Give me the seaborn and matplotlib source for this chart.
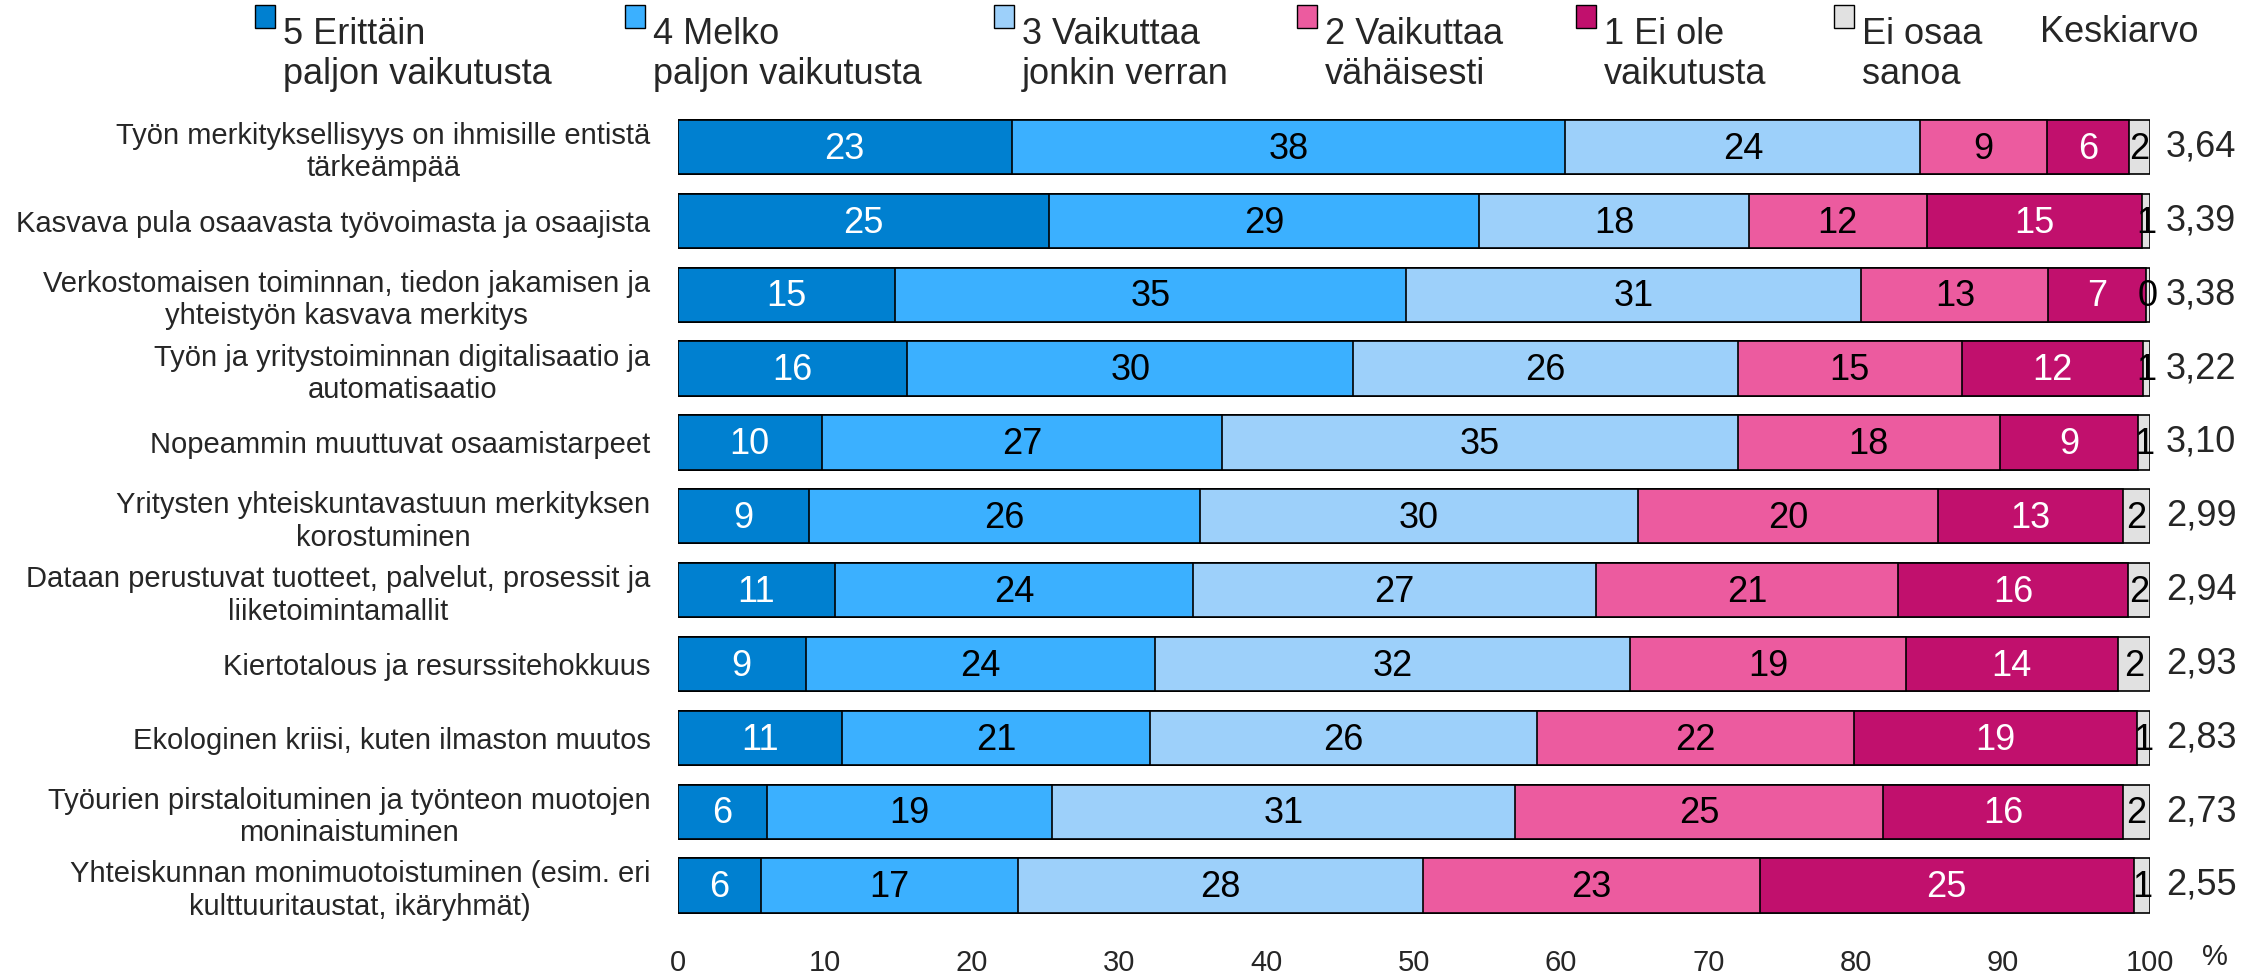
import matplotlib
matplotlib.use("Agg")
import matplotlib.pyplot as plt
import seaborn as sns
import pandas as pd
import numpy as np
from matplotlib.patches import Patch, Rectangle
from matplotlib.legend_handler import HandlerPatch

# ---------------- data ----------------
categories = [
    "Työn merkityksellisyys on ihmisille entistä\ntärkeämpää",
    "Kasvava pula osaavasta työvoimasta ja osaajista",
    "Verkostomaisen toiminnan, tiedon jakamisen ja\nyhteistyön kasvava merkitys",
    "Työn ja yritystoiminnan digitalisaatio ja\nautomatisaatio",
    "Nopeammin muuttuvat osaamistarpeet",
    "Yritysten yhteiskuntavastuun merkityksen\nkorostuminen",
    "Dataan perustuvat tuotteet, palvelut, prosessit ja\nliiketoimintamallit",
    "Kiertotalous ja resurssitehokkuus",
    "Ekologinen kriisi, kuten ilmaston muutos",
    "Työurien pirstaloituminen ja työnteon muotojen\nmoninaistuminen",
    "Yhteiskunnan monimuotoistuminen (esim. eri\nkulttuuritaustat, ikäryhmät)",
]

series_names = [
    "5 Erittäin\npaljon vaikutusta",
    "4 Melko\npaljon vaikutusta",
    "3 Vaikuttaa\njonkin verran",
    "2 Vaikuttaa\nvähäisesti",
    "1 Ei ole\nvaikutusta",
    "Ei osaa\nsanoa",
]

# bar widths (share of respondents, %)
share_5 = [22.7, 25.25, 14.8, 15.6, 9.8, 8.9, 10.7, 8.7, 11.2, 6.1, 5.7]
share_4 = [37.6, 29.2, 34.7, 30.3, 27.2, 26.6, 24.3, 23.7, 20.9, 19.3, 17.4]
share_3 = [24.1, 18.3, 30.9, 26.1, 35.0, 29.7, 27.4, 32.3, 26.3, 31.5, 27.5]
share_2 = [8.6, 12.1, 12.7, 15.2, 17.8, 20.4, 20.5, 18.7, 21.5, 25.0, 22.9]
share_1 = [5.6, 14.6, 6.6, 12.3, 9.4, 12.6, 15.6, 14.4, 19.2, 16.3, 25.4]
share_0 = [1.4, 0.55, 0.3, 0.5, 0.8, 1.8, 1.5, 2.2, 0.9, 1.8, 1.1]

# printed (rounded) labels
label_5 = [23, 25, 15, 16, 10, 9, 11, 9, 11, 6, 6]
label_4 = [38, 29, 35, 30, 27, 26, 24, 24, 21, 19, 17]
label_3 = [24, 18, 31, 26, 35, 30, 27, 32, 26, 31, 28]
label_2 = [9, 12, 13, 15, 18, 20, 21, 19, 22, 25, 23]
label_1 = [6, 15, 7, 12, 9, 13, 16, 14, 19, 16, 25]
label_0 = [2, 1, 0, 1, 1, 2, 2, 2, 1, 2, 1]

means = [3.64, 3.39, 3.38, 3.22, 3.10, 2.99, 2.94, 2.93, 2.83, 2.73, 2.55]

x_ticks = [0, 10, 20, 30, 40, 50, 60, 70, 80, 90, 100]

# ---------------- style ----------------
colors = ["#0080D0", "#3BB0FF", "#9DD0FA", "#EC5B9F", "#C1106D", "#E1E1E1"]
text_colors = ["white", "black", "black", "black", "white", "black"]

sns.set_style("white")
plt.rcParams["font.family"] = ["Liberation Sans", "DejaVu Sans"]

W, H = 2246, 973
fig = plt.figure(figsize=(W / 100, H / 100), dpi=100)
ax_left, ax_right = 677.5, 2150
ax = fig.add_axes([ax_left / W, 0.052, (ax_right - ax_left) / W, 0.8348])

shares = [share_5, share_4, share_3, share_2, share_1, share_0]
labels = [label_5, label_4, label_3, label_2, label_1, label_0]
n = len(categories)

cums = []
acc = np.zeros(n)
for s in shares:
    acc = acc + np.array(s)
    cums.append(acc.copy())

df = pd.DataFrame({"category": categories})
for k in reversed(range(len(shares))):
    d = df.copy()
    d["cum"] = cums[k]
    sns.barplot(data=d, x="cum", y="category", orient="h", color=colors[k],
                saturation=1, edgecolor="black", linewidth=1.2, width=0.734,
                errorbar=None, ax=ax)

# segment labels
left = np.zeros(n)
for k in range(len(shares)):
    vals = np.array(shares[k])
    for i in range(n):
        ax.text(left[i] + vals[i] / 2, i + 0.03, str(labels[k][i]), ha="center",
                va="center", fontsize=26, color=text_colors[k])
    left = left + vals

# mean values
for i, m in enumerate(means):
    ax.annotate(f"{m:.2f}".replace(".", ","), xy=(100, i), xytext=(11.5, 0),
                textcoords="offset points", ha="left", va="center",
                fontsize=26, annotation_clip=False)

ax.set_xlim(0, 100)
ax.set_ylim(n - 0.5, -0.5)
ax.set_xticks(x_ticks)
ax.set_xticklabels([str(t) for t in x_ticks], fontsize=21)
ax.set_yticks(range(n))
ax.set_yticklabels(categories, fontsize=21, ha="right")
for t in ax.get_yticklabels():
    t.set_multialignment("center")
ax.tick_params(axis="both", length=0)
ax.tick_params(axis="y", pad=19.5)
ax.tick_params(axis="x", pad=19)
ax.set_xlabel("")
ax.set_ylabel("")
for sp in ax.spines.values():
    sp.set_visible(False)

fig.text(2215 / W, 1 - 957 / H, "%", ha="center", va="center", fontsize=21)


# ---------------- legend ----------------
class TopPatchHandler(HandlerPatch):
    def create_artists(self, legend, orig_handle, xdescent, ydescent, width,
                       height, fontsize, trans):
        shift = fontsize * 1.075
        p = Rectangle((-xdescent, -ydescent + shift), width, height,
                      facecolor=orig_handle.get_facecolor(), edgecolor="black",
                      linewidth=1.0, transform=trans)
        return [p]


legend_x = [255, 625, 994, 1297, 1576, 1834]
for k, name in enumerate(series_names):
    fig.legend(handles=[Patch(facecolor=colors[k], edgecolor="black")],
               labels=[name], loc="upper left",
               bbox_to_anchor=(legend_x[k] / W, 1 - 17 / H),
               frameon=False, borderpad=0, borderaxespad=0,
               handlelength=0.55, handleheight=0.6, handletextpad=0.22,
               fontsize=26, handler_map={Patch: TopPatchHandler()})

fig.text(2040 / W, 1 - 32 / H, "Keskiarvo", ha="left", va="center", fontsize=26)

fig.savefig("out.png", dpi=100)
